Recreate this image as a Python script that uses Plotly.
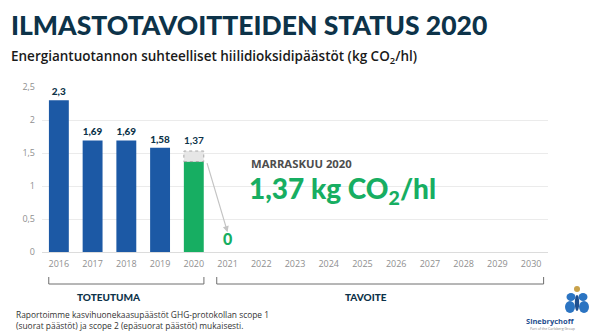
import plotly.graph_objects as go

# ---- data ----
years = [2016, 2017, 2018, 2019, 2020, 2021, 2022, 2023, 2024, 2025, 2026, 2027, 2028, 2029, 2030]
actual_years = [2016, 2017, 2018, 2019, 2020]
actual_values = [2.3, 1.69, 1.69, 1.58, 1.37]
target_year = 2021
target_value = 0
previous_level = 1.53          # dotted outline above the 2020 bar
y_ticks = [0, 0.5, 1, 1.5, 2, 2.5]
y_tick_labels = ["0", "0,5", "1", "1,5", "2", "2,5"]

NAVY = "#0d3349"
BLUE = "#1c59a5"
GREEN = "#17ae62"
GRAY_TXT = "#8f8f8f"

W, H = 600, 334
L, R, T, B = 42, 52, 87, 82
PW, PH = W - L - R, H - T - B


def px(x):
    return (x - L) / PW


def py(y):
    return (H - B - y) / PH


def fmt(v):
    return f"{v:g}".replace(".", ",")


fig = go.Figure()
# earlier years in blue with their values on top
fig.add_trace(go.Bar(
    x=actual_years[:4], y=actual_values[:4],
    marker=dict(color=BLUE, line=dict(width=0)),
    text=[fmt(v) for v in actual_values[:4]],
    textposition="outside",
    textfont=dict(family="Lato", size=10, color=NAVY, weight=900),
    cliponaxis=False, width=0.59, hoverinfo="skip",
))
# latest year in green
fig.add_trace(go.Bar(
    x=actual_years[4:], y=actual_values[4:],
    marker=dict(color=GREEN, line=dict(width=0)),
    width=0.59, hoverinfo="skip",
))

# dotted "previous level" box above the 2020 bar
fig.add_shape(type="rect", xref="x", yref="y",
              x0=2020 - 0.295, x1=2020 + 0.295, y0=actual_values[4], y1=previous_level,
              fillcolor="#e6e6e6", line=dict(color="#a8a8a8", width=1, dash="dot"), layer="above")

annotations = []
# 2020 value label sits above the dotted box
annotations.append(dict(x=2020, y=previous_level, xref="x", yref="y", text=fmt(actual_values[4]),
                        showarrow=False, yanchor="bottom", yshift=3,
                        font=dict(family="Lato", size=10, color=NAVY, weight=700)))
# arrow down to the 2021 target
annotations.append(dict(x=target_year, y=target_value + 0.3, xref="x", yref="y",
                        ax=2020.38, ay=actual_values[4], axref="x", ayref="y",
                        showarrow=True, arrowhead=2, arrowsize=1, arrowwidth=1.2,
                        arrowcolor="#c4c4c4", text=""))
annotations.append(dict(x=target_year, y=target_value, xref="x", yref="y", text=str(target_value),
                        showarrow=False, yanchor="bottom", yshift=2,
                        font=dict(family="Lato", size=16, color=GREEN, weight=900)))

# headline texts
annotations.append(dict(x=px(9), y=py(25), xref="paper", yref="paper",
                        text="ILMASTOTAVOITTEIDEN STATUS 2020", showarrow=False,
                        xanchor="left", yanchor="middle",
                        font=dict(family="Lato", size=26.5, color=NAVY, weight=900)))
annotations.append(dict(x=px(9), y=py(57), xref="paper", yref="paper",
                        text="Energiantuotannon suhteelliset hiilidioksidipäästöt (kg CO<sub>2</sub>/hl)",
                        showarrow=False, xanchor="left", yanchor="middle",
                        font=dict(family="Open Sans", size=13.5, color="#1a1a1a", weight=600)))
annotations.append(dict(x=px(249), y=py(163), xref="paper", yref="paper",
                        text="MARRASKUU 2020", showarrow=False, xanchor="left", yanchor="middle",
                        font=dict(family="Open Sans", size=11.3, color="#4d4d4d", weight=700)))
annotations.append(dict(x=px(247), y=py(190), xref="paper", yref="paper",
                        text="1,37 kg CO<sub>2</sub>/hl", showarrow=False, xanchor="left", yanchor="middle",
                        font=dict(family="Lato", size=28, color=GREEN, weight=900)))

# period brackets and labels
for x0, x1 in [(2016 - 0.3, 2020 + 0.3), (2021 - 0.32, 2030 + 0.37)]:
    fig.add_shape(type="path", xref="x", yref="paper",
                  path=f"M {x0},{py(277)} L {x0},{py(284)} L {x1},{py(284)} L {x1},{py(277)}",
                  line=dict(color="#6e6e6e", width=1))
annotations.append(dict(x=2017.5, y=py(297), xref="x", yref="paper", text="TOTEUTUMA",
                        showarrow=False, yanchor="middle",
                        font=dict(family="Lato", size=10, color=NAVY, weight=900)))
annotations.append(dict(x=2025.1, y=py(297), xref="x", yref="paper", text="TAVOITE",
                        showarrow=False, yanchor="middle",
                        font=dict(family="Lato", size=10, color=NAVY, weight=900)))

# footnote
annotations.append(dict(x=px(14), y=py(319.5), xref="paper", yref="paper",
                        text="Raportoimme kasvihuonekaasupäästöt GHG-protokollan scope 1<br>"
                             "(suorat päästöt) ja scope 2 (epäsuorat päästöt) mukaisesti.",
                        showarrow=False, xanchor="left", yanchor="middle", align="left",
                        font=dict(family="Open Sans", size=8.4, color="#333333")))

# brand mark
annotations.append(dict(x=px(577), y=py(321), xref="paper", yref="paper", text="<b>Sinebrychoff</b>",
                        showarrow=False, yanchor="middle",
                        font=dict(family="Open Sans", size=7.5, color="#1f4f8f")))
annotations.append(dict(x=px(577), y=py(328), xref="paper", yref="paper",
                        text="Part of the Carlsberg Group", showarrow=False, yanchor="middle",
                        font=dict(family="Open Sans", size=3.5, color="#888888")))
for cx, cy, rx, ry, col in [(577, 289, 3, 3, "#c9a24a"),
                            (571, 297, 4.5, 4, "#2b74c2"), (583, 297, 4.5, 4, "#2b74c2"),
                            (570, 307, 5, 6, "#2b74c2"), (584, 307, 5, 6, "#2b74c2"),
                            (577, 303, 2.2, 8, "#1f4f8f")]:
    fig.add_shape(type="circle", xref="paper", yref="paper",
                  x0=px(cx - rx), x1=px(cx + rx), y0=py(cy + ry), y1=py(cy - ry),
                  fillcolor=col, line=dict(width=0))

fig.update_layout(
    width=W, height=H, margin=dict(l=L, r=R, t=T, b=B),
    paper_bgcolor="white", plot_bgcolor="white", barmode="overlay",
    showlegend=False, annotations=annotations,
    xaxis=dict(range=[2015.5, 2030.5], tickvals=years, ticktext=[str(y) for y in years],
               showgrid=False, zeroline=False, showline=False, ticks="", ticklabelstandoff=5,
               tickfont=dict(family="Open Sans", size=9, color=GRAY_TXT), fixedrange=True),
    yaxis=dict(range=[0, 2.5], tickvals=y_ticks, ticktext=y_tick_labels,
               showgrid=True, gridcolor="#ebebeb", gridwidth=1,
               zeroline=True, zerolinecolor="#dcdcdc", zerolinewidth=1,
               showline=False, ticks="", ticklabelstandoff=6,
               tickfont=dict(family="Open Sans", size=9, color=GRAY_TXT), fixedrange=True),
)

fig.write_html("out.html", config={"displayModeBar": False})
